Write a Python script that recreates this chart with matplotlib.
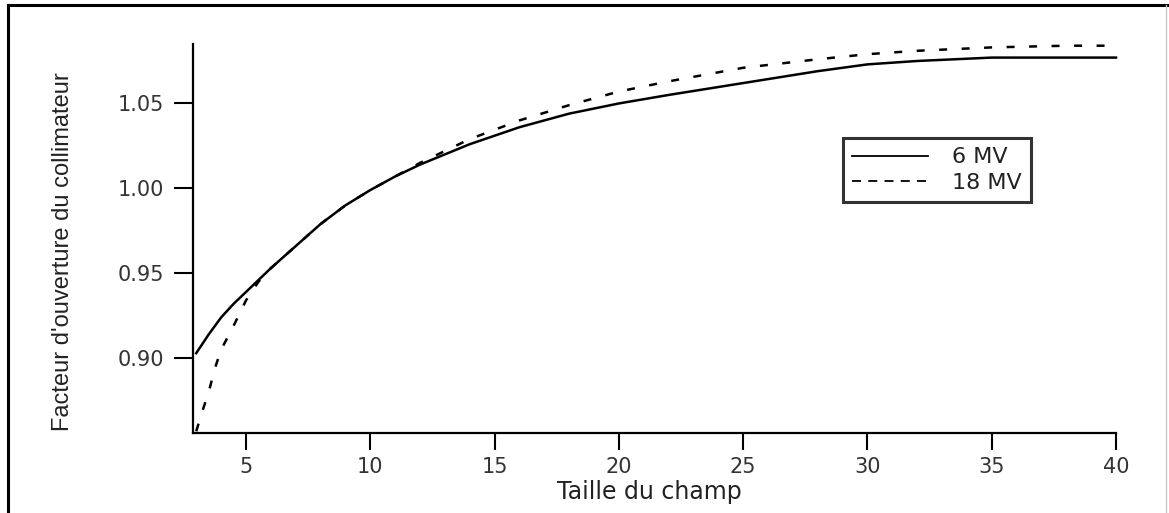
import matplotlib
matplotlib.use("Agg")
import matplotlib.pyplot as plt
from matplotlib.lines import Line2D

# 6 MV
x_6mv = [3, 3.5, 4, 4.5, 5, 6, 7, 8, 9, 10, 11, 12, 14, 16, 18, 20, 22, 25, 28, 30, 32, 35, 38, 40]
y_6mv = [0.903, 0.914, 0.924, 0.932, 0.939, 0.953, 0.966, 0.979, 0.990, 0.999, 1.007, 1.014,
         1.026, 1.036, 1.044, 1.050, 1.055, 1.062, 1.069, 1.073, 1.075, 1.077, 1.077, 1.077]

# 18 MV
x_18mv = [3, 3.25, 3.5, 3.75, 4, 4.5, 5, 5.5, 6, 7, 8, 9, 10, 11, 12, 14, 16, 18, 20, 22, 25,
          28, 30, 32, 35, 38, 40]
y_18mv = [0.857, 0.869, 0.880, 0.894, 0.905, 0.919, 0.934, 0.945, 0.953, 0.966, 0.979, 0.990,
          0.999, 1.007, 1.015, 1.029, 1.040, 1.049, 1.057, 1.063, 1.071, 1.076, 1.079, 1.081,
          1.083, 1.084, 1.084]

xticks = [5, 10, 15, 20, 25, 30, 35, 40]
yticks = [0.90, 0.95, 1.00, 1.05]
labels = ['6 MV', '18 MV']

W, H = 1169, 513
fig = plt.figure(figsize=(W / 100, H / 100), dpi=100)
ax = fig.add_axes([193 / W, 1 - 433 / H, (1116 - 193) / W, (433 - 44) / H])

ax.plot(x_6mv, y_6mv, color='black', lw=1.8, clip_on=False)
ax.plot(x_18mv, y_18mv, color='black', lw=1.8, dashes=(3.2, 5.8), clip_on=False)

ax.set_xlim(2.87, 40)
ax.set_ylim(0.856, 1.085)
ax.set_xticks(xticks)
ax.set_yticks(yticks)
ax.set_xticklabels([str(t) for t in xticks])
ax.set_yticklabels(['%.2f' % t for t in yticks])

for s in ['top', 'right']:
    ax.spines[s].set_visible(False)
for s in ['left', 'bottom']:
    ax.spines[s].set_linewidth(1.6)

ax.tick_params(axis='y', direction='out', length=14, width=1.5, pad=7, labelsize=15, labelcolor='#333333')
ax.tick_params(axis='x', direction='out', length=12, width=1.5, pad=5, labelsize=15, labelcolor='#333333')

fig.text(649 / W, 1 - 492 / H, 'Taille du champ', ha='center', va='center', fontsize=17, color='#222222')
fig.text(63 / W, 1 - 252 / H, "Facteur d'ouverture du collimateur", ha='center', va='center',
         rotation=90, fontsize=17, color='#222222', family=['Liberation Sans', 'DejaVu Sans'])

handles = [Line2D([], [], color='black', lw=1.3),
           Line2D([], [], color='black', lw=1.3, dashes=(5, 4))]
leg = ax.legend(handles, labels, loc='upper left', bbox_to_anchor=(843 / W, 1 - 138 / H),
                bbox_transform=fig.transFigure, fontsize=16, frameon=True, fancybox=False,
                borderaxespad=0, borderpad=0.42, handlelength=3.4, handletextpad=1.1,
                labelspacing=0.25)
leg.get_frame().set_edgecolor('black')
leg.get_frame().set_linewidth(2.2)
for t in leg.get_texts():
    t.set_color('#222222')

# outer frame of the picture
fig.add_artist(Line2D([8 / W, 8 / W], [0, 1 - 5 / H], color='black', lw=2.2, transform=fig.transFigure))
fig.add_artist(Line2D([8 / W, 1168 / W], [1 - 5 / H, 1 - 5 / H], color='black', lw=2.2, transform=fig.transFigure))
fig.add_artist(Line2D([1166 / W, 1166 / W], [0, 1 - 5 / H], color='#c8c8c8', lw=1, transform=fig.transFigure))

fig.savefig('out.png', dpi=100)
